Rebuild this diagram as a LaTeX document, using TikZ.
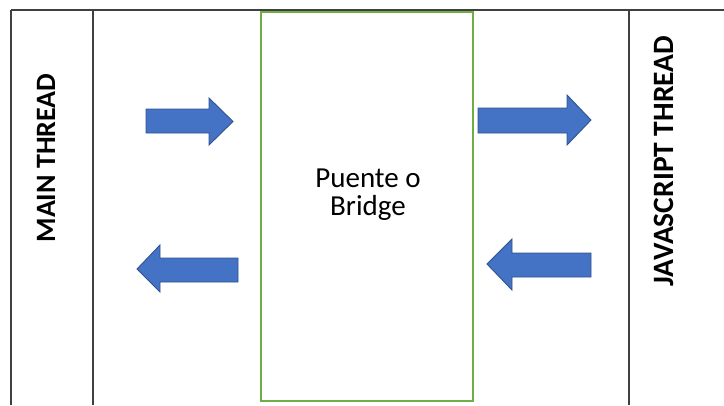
\documentclass[tikz,border=0pt]{standalone}
\usepackage{fontspec}
\setmainfont{Carlito}
\definecolor{rule}{HTML}{404040}
\definecolor{bridgegreen}{HTML}{70AD47}
\definecolor{arrowfill}{HTML}{4472C4}
\definecolor{arrowedge}{HTML}{2F528F}
\tikzset{
  divider/.style={draw=rule, line width=1.6pt},
  bridgebox/.style={draw=bridgegreen, line width=1.8pt},
  blockarrow/.style={fill=arrowfill, draw=arrowedge, line width=0.9pt, line join=miter},
  threadlabel/.style={font=\bfseries, rotate=90, inner sep=0pt},
  bridgelabel/.style={font=\fontsize{29}{28}\selectfont, align=center, inner sep=0pt}
}
\begin{document}
\begin{tikzpicture}[x=1pt, y=-1pt]
  \useasboundingbox (0,0) rectangle (724,405);
  % frame of the table
  \coordinate (tl) at (11,10);
  \coordinate (tr) at (724,10);
  \draw[divider] (tl) -- (tr);
  \draw[divider] (11,10) -- (11,405);
  \draw[divider] (93,10) -- (93,405);
  \draw[divider] (629,10) -- (629,405);
  % bridge column
  \draw[bridgebox] (261,12) rectangle (473,401);
  \node[bridgelabel] (bridge) at (368,195) {Puente o\\Bridge};
  % thread labels
  \node[threadlabel, font=\bfseries\fontsize{28}{30}\selectfont] (main) at (46,158) {MAIN THREAD};
  \node[threadlabel, font=\bfseries\fontsize{29.5}{30}\selectfont] (js) at (664,161) {JAVASCRIPT THREAD};
  % block arrows
  \draw[blockarrow] (146,109) -- (209,109) -- (209,98) -- (233,121.5) -- (209,145) -- (209,133) -- (146,133) -- cycle;
  \draw[blockarrow] (478,108) -- (567,108) -- (567,95) -- (591,120) -- (567,145) -- (567,133) -- (478,133) -- cycle;
  \draw[blockarrow] (238,258) -- (160,258) -- (160,245) -- (137,269) -- (160,292) -- (160,282) -- (238,282) -- cycle;
  \draw[blockarrow] (591,253) -- (512,253) -- (512,239) -- (487,264) -- (512,290) -- (512,277) -- (591,277) -- cycle;
\end{tikzpicture}
\end{document}
